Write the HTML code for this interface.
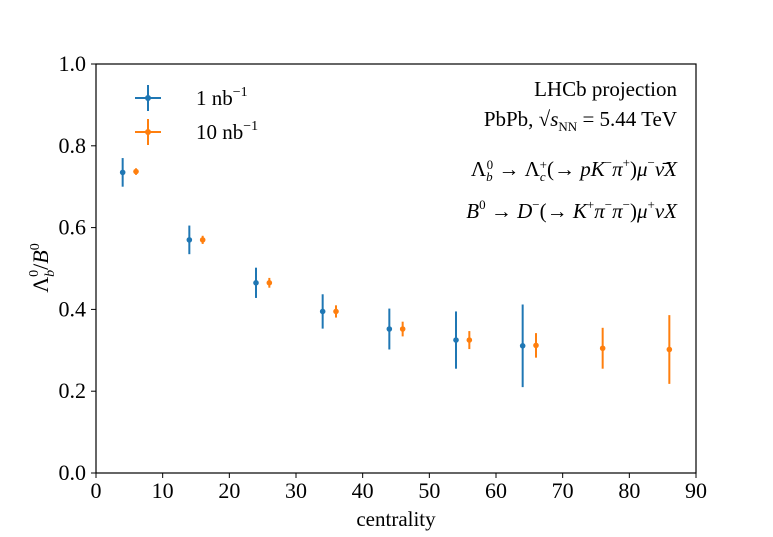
<!DOCTYPE html>
<html><head><meta charset="utf-8"><style>
body{margin:0;background:#fff;}
svg text{font-family:"Liberation Serif",serif;fill:#000;}
</style></head><body>
<svg id="chart" width="773" height="532" xmlns="http://www.w3.org/2000/svg">
<rect x="0" y="0" width="773" height="532" fill="#fff"/>
<g id="marks"></g>
<rect x="96" y="64" width="600" height="409" fill="none" stroke="#000" stroke-width="1.2"/>
<g id="axes"></g>
<text x="396" y="526" font-size="21" text-anchor="middle">centrality</text>
<text transform="translate(48,268) rotate(-90)" font-size="22" text-anchor="middle">Λ<tspan font-size="14" dy="6" font-style="italic">b</tspan><tspan font-size="14" dx="-7" dy="-16">0</tspan><tspan dy="10">/</tspan><tspan font-style="italic">B</tspan><tspan font-size="14" dy="-9">0</tspan></text>
<g>
  <g>
    <line x1="135" y1="98" x2="161" y2="98" stroke="#1f77b4" stroke-width="2"/>
    <line x1="148" y1="85" x2="148" y2="111" stroke="#1f77b4" stroke-width="2"/>
    <circle cx="148" cy="98" r="3" fill="#1f77b4"/>
    <text x="196" y="105" font-size="21">1 nb<tspan font-size="14" dy="-9">−1</tspan></text>
  </g>
  <g>
    <line x1="135" y1="132" x2="161" y2="132" stroke="#ff7f0e" stroke-width="2"/>
    <line x1="148" y1="119" x2="148" y2="145" stroke="#ff7f0e" stroke-width="2"/>
    <circle cx="148" cy="132" r="3" fill="#ff7f0e"/>
    <text x="196" y="139" font-size="21">10 nb<tspan font-size="14" dy="-9">−1</tspan></text>
  </g>
</g>
<g font-size="21">
  <text x="677" y="96" text-anchor="end">LHCb projection</text>
  <text x="677" y="126" text-anchor="end">PbPb, √<tspan font-style="italic">s</tspan><tspan font-size="13" dy="5">NN</tspan><tspan dy="-5"> = 5.44 TeV</tspan></text>
  <text x="677" y="176" text-anchor="end">Λ<tspan font-size="13" dy="5" font-style="italic">b</tspan><tspan font-size="13" dx="-6" dy="-12">0</tspan><tspan dy="7"> → Λ</tspan><tspan font-size="13" dy="5" font-style="italic">c</tspan><tspan font-size="13" dx="-6" dy="-12">+</tspan><tspan dy="7">(→ </tspan><tspan font-style="italic">pK</tspan><tspan font-size="13" dy="-9">−</tspan><tspan dy="9" font-style="italic">π</tspan><tspan font-size="13" dy="-9">+</tspan><tspan dy="9">)</tspan><tspan font-style="italic">μ</tspan><tspan font-size="13" dy="-9">−</tspan><tspan dy="9" font-style="italic">ν̄X</tspan></text>
  <text x="677" y="218" text-anchor="end"><tspan font-style="italic">B</tspan><tspan font-size="13" dy="-9">0</tspan><tspan dy="9"> → </tspan><tspan font-style="italic">D</tspan><tspan font-size="13" dy="-9">−</tspan><tspan dy="9">(→ </tspan><tspan font-style="italic">K</tspan><tspan font-size="13" dy="-9">+</tspan><tspan dy="9" font-style="italic">π</tspan><tspan font-size="13" dy="-9">−</tspan><tspan dy="9" font-style="italic">π</tspan><tspan font-size="13" dy="-9">−</tspan><tspan dy="9">)</tspan><tspan font-style="italic">μ</tspan><tspan font-size="13" dy="-9">+</tspan><tspan dy="9" font-style="italic">νX</tspan></text>
</g>
</svg>
<script>
const blueX=[4,14,24,34,44,54,64];
const blueY=[0.735,0.57,0.465,0.395,0.352,0.325,0.311];
const blueErr=[0.035,0.035,0.037,0.042,0.05,0.07,0.101];
const orangeX=[6,16,26,36,46,56,66,76,86];
const orangeY=[0.737,0.57,0.465,0.395,0.352,0.325,0.312,0.305,0.302];
const orangeErr=[0.008,0.01,0.012,0.015,0.018,0.022,0.03,0.05,0.084];
const xTicks=[0,10,20,30,40,50,60,70,80,90];
const yTicks=[0.0,0.2,0.4,0.6,0.8,1.0];
const NS="http://www.w3.org/2000/svg";
function sx(v){return 96+v*600/90;}
function sy(v){return 473-v*409;}
const marks=document.getElementById('marks');
const axes=document.getElementById('axes');
function mk(tag,attrs,parent){const e=document.createElementNS(NS,tag);for(const k in attrs)e.setAttribute(k,attrs[k]);parent.appendChild(e);return e;}
function series(xs,ys,es,color,name){
  for(let i=0;i<xs.length;i++){
    const g=mk('g',{},marks);
    
    
    mk('line',{x1:sx(xs[i]),x2:sx(xs[i]),y1:sy(ys[i]-es[i]),y2:sy(ys[i]+es[i]),stroke:color,'stroke-width':2},g);
    mk('circle',{cx:sx(xs[i]),cy:sy(ys[i]),r:2.8,fill:color},g);
  }
}
series(blueX,blueY,blueErr,'#1f77b4','series-1nb');
series(orangeX,orangeY,orangeErr,'#ff7f0e','series-10nb');
xTicks.forEach(t=>{
  const l=mk('line',{x1:sx(t),x2:sx(t),y1:473,y2:478,stroke:'#000','stroke-width':1},axes);
  
  
  const tx=mk('text',{x:sx(t),y:498,'font-size':22,'text-anchor':'middle'},axes);
  tx.textContent=t;
  
  
});
yTicks.forEach(t=>{
  const l=mk('line',{x1:91,x2:96,y1:sy(t),y2:sy(t),stroke:'#000','stroke-width':1},axes);
  
  
  const tx=mk('text',{x:86,y:sy(t)+7,'font-size':22,'text-anchor':'end'},axes);
  tx.textContent=t.toFixed(1);
  
  
});
</script>
</body></html>
